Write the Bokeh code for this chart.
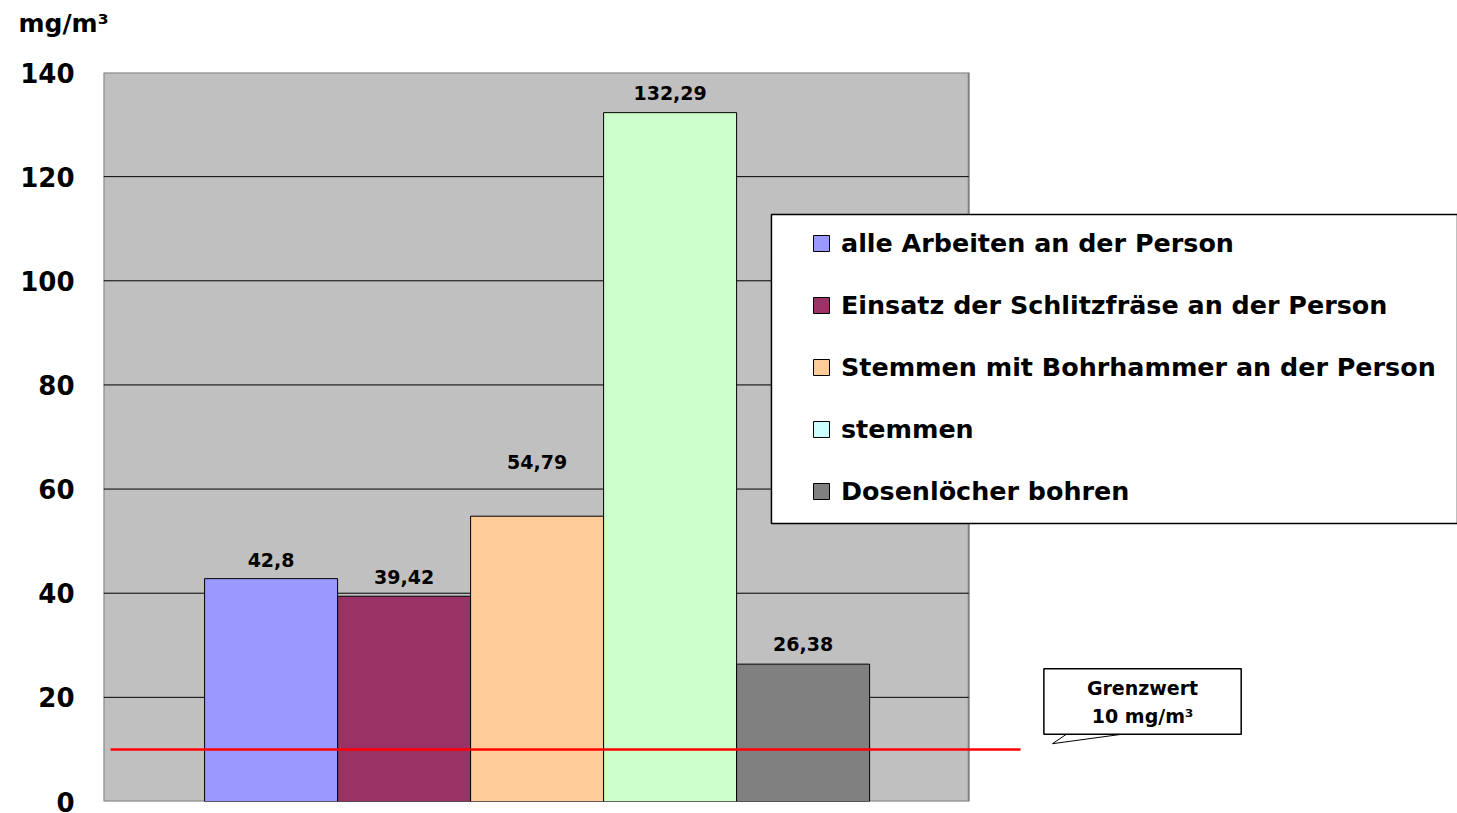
import math
from bokeh.plotting import figure
from bokeh.models import (ColumnDataSource, Range1d, FixedTicker, Label, Arrow, PolyAnnotation,
                          Legend, LegendItem, BoxAnnotation, Title)
from bokeh.embed import file_html
from bokeh.resources import INLINE
from bokeh.core.properties import value

# ---- data ----
categories = ["alle Arbeiten an der Person",
              "Einsatz der Schlitzfräse an der Person",
              "Stemmen mit Bohrhammer an der Person",
              "stemmen",
              "Dosenlöcher bohren"]
values = [42.8, 39.42, 54.79, 132.29, 26.38]
bar_colors = ["#9999FF", "#993366", "#FFCC99", "#CCFFCC", "#808080"]
legend_colors = ["#9999FF", "#993366", "#FFCC99", "#CCFFFF", "#808080"]
label_offsets = [-19, -19, -54, -20, -20]   # px, style of value labels
y_ticks = [0, 20, 40, 60, 80, 100, 120, 140]
grid_ticks = [20, 40, 60, 80, 100, 120]
limit_value = 10
unit_text = "mg/m³"
limit_text = "Grenzwert\n10 mg/m³"

FONT = "DejaVu Sans"

# plot-area (grey box) bounds in data units; the canvas extends further right
plot_x0, plot_x1 = -1.26, 5.245
y_min, y_max = 0, 140

p = figure(width=1457, height=813, output_backend="svg", toolbar_location=None,
           x_range=Range1d(plot_x0, 8.92), y_range=Range1d(y_min, y_max),
           x_axis_location=None,
           min_border_left=103, min_border_right=0, min_border_top=72, min_border_bottom=12)

p.background_fill_color = "white"
p.border_fill_color = "white"
p.outline_line_color = None
p.xgrid.visible = False
p.ygrid.visible = False

ax = p.yaxis[0]
ax.ticker = FixedTicker(ticks=y_ticks)
ax.axis_line_color = None
ax.major_tick_line_color = None
ax.minor_tick_line_color = None
ax.major_tick_in = 0
ax.major_tick_out = 0
ax.minor_tick_in = 0
ax.minor_tick_out = 0
ax.major_label_standoff = 29
ax.major_label_text_font = FONT
ax.major_label_text_font_style = "bold"
ax.major_label_text_font_size = "26px"
ax.major_label_text_color = "black"

# unit as title, top-left (empty second line lifts it towards the top edge)
p.title = Title(text=unit_text + "\n", align="left", offset=-85, standoff=12,
                text_line_height=1.0,
                text_font=FONT, text_font_style="bold", text_font_size="25px", text_color="black")

# grey plot area with grid
p.quad(left=[plot_x0], right=[plot_x1], bottom=[y_min], top=[y_max],
       fill_color="#C0C0C0", line_color="#808080", line_width=2)
p.segment(x0=[plot_x0] * len(grid_ticks), x1=[plot_x1] * len(grid_ticks),
          y0=grid_ticks, y1=grid_ticks, line_color="black", line_width=1)

src = ColumnDataSource(dict(
    x=list(range(len(values))),
    top=values,
    color=bar_colors,
    label=[f"{v:g}".replace(".", ",") for v in values],
    off=label_offsets,
))
p.vbar(x="x", top="top", bottom=0, width=1.0, fill_color="color",
       line_color="black", line_width=1, source=src)
p.text(x="x", y="top", text="label", y_offset="off", text_align="center",
       text_baseline="alphabetic", text_font=value(FONT), text_font_style="bold",
       text_font_size="19px", text_color="black", source=src)

# limit line
p.add_layout(Arrow(end=None, x_start=-1.207, y_start=limit_value, x_end=5.635, y_end=limit_value,
                   line_color="#FF0000", line_width=2.5))

# legend box (extends past the right edge) and legend items
p.add_layout(BoxAnnotation(left=3.762, bottom=53.39, top=112.73,
                           fill_color="white", fill_alpha=1.0,
                           line_color="black", line_alpha=1.0, line_width=1.5))
items = []
for name, c in zip(categories, legend_colors):
    r = p.scatter(x=[math.nan], y=[math.nan], marker="square", size=16, fill_color=c,
                  line_color="black", line_width=1)
    items.append(LegendItem(label=name, renderers=[r]))
legend = Legend(items=items, location=(698, 289), margin=0, padding=0, spacing=20,
                glyph_width=40, glyph_height=42, label_height=42,
                label_standoff=0, label_text_font=FONT, label_text_font_style="bold",
                label_text_font_size="25.4px", label_text_color="black",
                border_line_color=None, background_fill_alpha=0.0)
p.add_layout(legend)

# callout
p.add_layout(PolyAnnotation(xs=[5.99, 5.875, 6.45], ys=[13.1, 11.1, 13.1],
                            fill_color="white", fill_alpha=1.0,
                            line_color="black", line_alpha=1.0, line_width=1))
p.add_layout(Label(x=6.552, y=19.2, text=limit_text, text_align="center", text_baseline="middle",
                   text_font=FONT, text_font_style="bold", text_font_size="19px",
                   text_line_height=1.3, text_color="black",
                   border_line_color="black", border_line_width=1.5,
                   background_fill_color="white", background_fill_alpha=1.0,
                   padding=dict(left=43, right=43, top=8, bottom=7)))

open("out.html", "w").write(file_html(p, INLINE))
